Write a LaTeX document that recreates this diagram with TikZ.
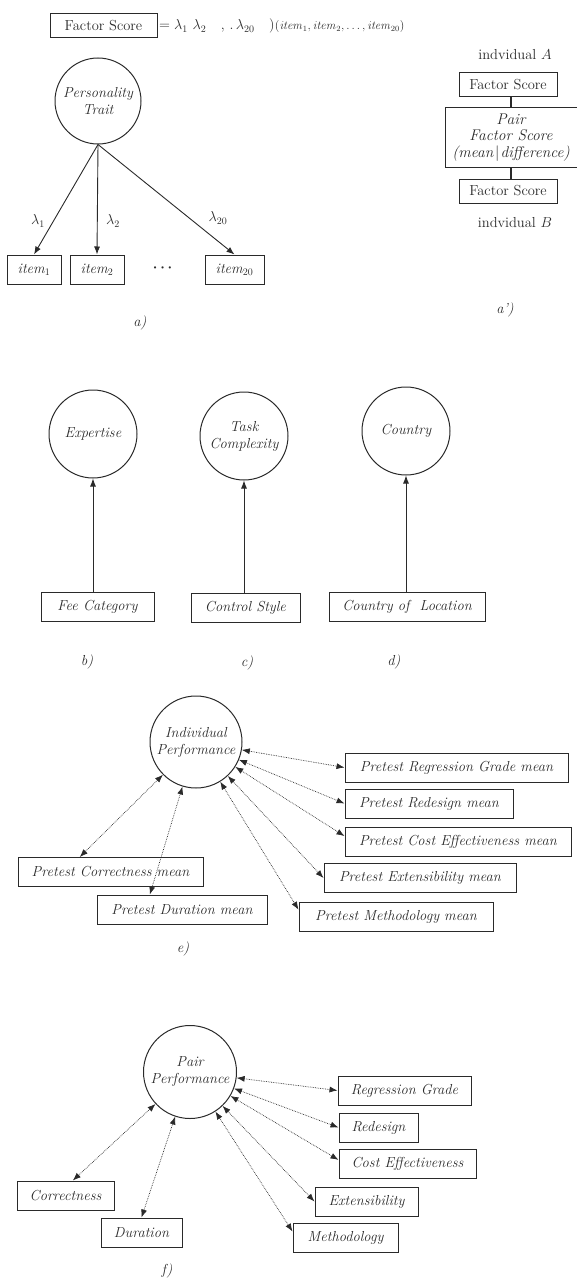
\documentclass[tikz,border=0pt]{standalone}
\usepackage{amsmath}
\usetikzlibrary{arrows.meta,positioning}
\definecolor{ink}{HTML}{2A2A2A}
\begin{document}
\fontsize{14.5}{17}\selectfont
\begin{tikzpicture}[x=1pt,y=-1pt,
  latent/.style={circle,draw=ink,line width=1pt,minimum size=#1,inner sep=0pt,align=center,font=\itshape,text=ink},
  latent/.default=88pt,
  manifest/.style={draw=ink,line width=1pt,minimum width=#1,minimum height=29pt,inner sep=2pt,font=\itshape,text=ink},
  score/.style={draw=ink,line width=1pt,minimum width=#1,minimum height=24pt,inner sep=2pt,text=ink},
  load/.style={draw=ink,line width=0.9pt,-{Latex[length=8pt,width=6pt]}},
  covar/.style={draw=ink,line width=0.7pt,densely dotted,{Latex[length=8pt,width=6pt]}-{Latex[length=8pt,width=6pt]}},
  joint/.style={draw=ink,line width=1.3pt},
  tag/.style={font=\itshape,text=ink}]
\useasboundingbox (0,0) rectangle (577,1279);

% a) one factor with its loadings
\node[score=107pt] (fs) at (103.5,25.5) {Factor Score};
\node[anchor=base west,inner sep=0pt,text=ink] (eq) at (159,30) {$=\lambda_1\ \lambda_2\quad,\,.\,\lambda_{20}\quad)$};
\node[anchor=base west,inner sep=0pt,text=ink,font=\fontsize{12}{14}\selectfont] (eqitems) at (eq.base east) {$(\mathit{item}_1, \mathit{item}_2, \ldots, \mathit{item}_{20})$};
\node[latent=86pt] (pt) at (98,101) {Personality\\Trait};
\node[manifest=54pt] (it1) at (34,269.5) {item$_1$};
\node[manifest=54pt] (it2) at (97,269.5) {item$_2$};
\node[text=ink] (dots) at (164,268) {$\boldsymbol{\cdots}$};
\node[manifest=59pt] (it20) at (234.5,269.5) {item$_{20}$};
\draw[load] (pt.south) -- (it1.north);
\draw[load] (pt.south) -- (it2.north);
\draw[load] (pt.south) -- (it20.north);
\node[text=ink] (lam1) at (38,221) {$\lambda_1$};
\node[text=ink] (lam2) at (113,221) {$\lambda_2$};
\node[text=ink] (lam20) at (218,218) {$\lambda_{20}$};
\node[tag] (la) at (140,323) {a)};

% a') pair score
\node[text=ink] (indA) at (515,55) {indvidual $A$};
\node[score=98pt] (fsA) at (508,85) {Factor Score};
\node[draw=ink,line width=1pt,minimum width=132pt,minimum height=59pt,inner sep=1pt,align=center,text=ink,
  font=\fontsize{15.5}{16.5}\selectfont\itshape] (pfs) at (511,137.5) {Pair\\Factor Score\\(mean\/\kern1.5pt\textup{|}\kern1pt difference)};
\node[score=98pt] (fsB) at (508,191) {Factor Score};
\node[text=ink] (indB) at (515,223) {indvidual $B$};
\draw[joint] (pfs.north) -- (pfs.north |- fsA.south);
\draw[joint] (pfs.south) -- (pfs.south |- fsB.north);
\node[tag] (lap) at (505,310) {a')};

% b) c) d) single indicators
\node[latent] (exp) at (93,434) {Expertise};
\node[manifest=113pt] (fee) at (97.5,607) {Fee Category};
\draw[load] (fee.north -| exp.south) -- (exp.south);
\node[tag] (lb) at (87,662) {b)};
\node[latent] (task) at (244,436) {Task\\Complexity};
\node[manifest=109pt] (ctrl) at (245.5,608) {Control Style};
\draw[load] (ctrl.north -| task.south) -- (task.south);
\node[tag] (lc) at (247,663) {c)};
\node[latent] (ctry) at (406,431) {Country};
\node[manifest=156pt] (loc) at (407,607) {Country of\ \ Location};
\draw[load] (loc.north -| ctry.south) -- (ctry.south);
\node[tag] (ld) at (394,662) {d)};

% e) individual performance
\node[latent=92pt] (ip) at (196,742) {Individual\\Performance};
\node[manifest=223pt] (prg) at (456.5,767.5) {Pretest Regression Grade mean};
\node[manifest=168pt] (prd) at (429,803.5) {Pretest Redesign mean};
\node[manifest=226pt] (pce) at (458,842) {Pretest Cost Effectiveness mean};
\node[manifest=192pt] (pex) at (420,878) {Pretest Extensibility mean};
\node[manifest=194pt] (pme) at (396,916.5) {Pretest Methodology mean};
\node[manifest=185pt] (pco) at (110.5,872) {Pretest Correctness mean};
\node[manifest=170pt] (pdu) at (182,909.5) {Pretest Duration mean};
\draw[covar] (ip) -- (prg.west);
\draw[covar] (ip) -- (prd.west);
\draw[covar] (ip) -- (pce.177);
\draw[covar] (ip) -- (pex.west);
\draw[covar] (ip) -- (pme.176);
\draw[covar] (ip) -- (pco.154);
\draw[covar] (ip) -- (pdu.155);
\node[tag] (le) at (183,949) {e)};

% f) pair performance
\node[latent=93pt] (pp) at (190,1072) {Pair\\Performance};
\node[manifest=133pt] (rg) at (404.5,1090.5) {Regression Grade};
\node[manifest=79pt] (rd) at (378.5,1127.5) {Redesign};
\node[manifest=137pt] (ce) at (407.5,1163.5) {Cost Effectiveness};
\node[manifest=103pt] (ex) at (366.5,1201.5) {Extensibility};
\node[manifest=105pt] (me) at (345.5,1238) {Methodology};
\node[manifest=97pt] (co) at (65.5,1195.5) {Correctness};
\node[manifest=81pt] (du) at (141.5,1232.5) {Duration};
\draw[covar] (pp) -- (rg.west);
\draw[covar] (pp) -- (rd.west);
\draw[covar] (pp) -- (ce.177);
\draw[covar] (pp) -- (ex.west);
\draw[covar] (pp) -- (me.173);
\draw[covar] (pp) -- (co.64);
\draw[covar] (pp) -- (du.north);
\node[tag] (lf) at (167,1271) {f)};
\end{tikzpicture}
\end{document}
